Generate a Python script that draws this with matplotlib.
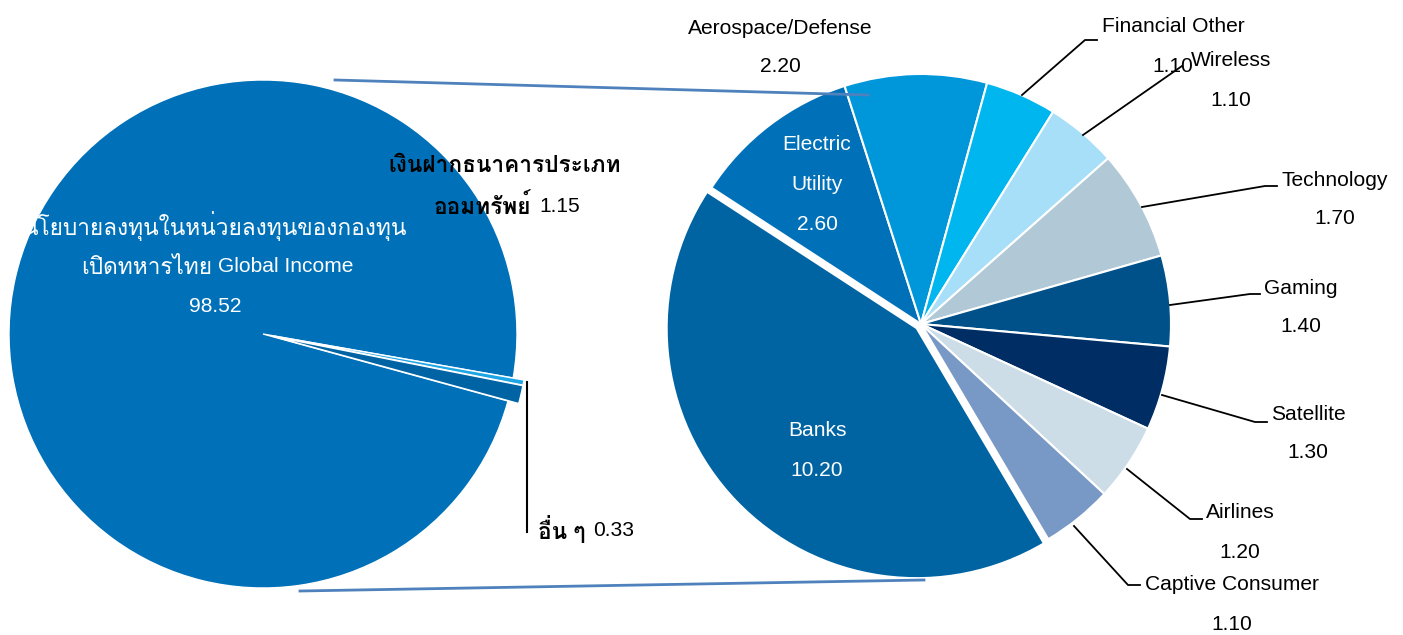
import matplotlib
matplotlib.use('Agg')
import matplotlib.pyplot as plt
from matplotlib import font_manager
from matplotlib.ft2font import FT2Font

# หา font ที่มีอักษรไทย
thai_family = None
for f in font_manager.fontManager.ttflist:
    try:
        if FT2Font(f.fname).get_char_index(0x0E01):
            thai_family = f.name
            break
    except Exception:
        pass
fams = ['Liberation Sans'] + ([thai_family] if thai_family else []) + ['DejaVu Sans']
plt.rcParams['font.family'] = fams

# data
main_labels = ['นโยบายลงทุนในหน่วยลงทุนของกองทุน\nเปิดทหารไทย Global Income', 'อื่น ๆ', 'เงินฝากธนาคารประเภทออมทรัพย์']
main_values = [98.52, 0.33, 1.15]
main_colors = ['#0071B9', '#1DA6E6', '#0064A4']

sector_labels = ['Banks', 'Electric Utility', 'Aerospace/Defense', 'Financial Other', 'Wireless',
                 'Technology', 'Gaming', 'Satellite', 'Airlines', 'Captive Consumer']
sector_values = [10.20, 2.60, 2.20, 1.10, 1.10, 1.70, 1.40, 1.30, 1.20, 1.10]
sector_colors = ['#0064A3', '#0071B9', '#0096DA', '#00B6EF', '#A8DFF8',
                 '#B1C8D6', '#005089', '#002D64', '#CCDDE8', '#7899C6']

W, H = 1403, 635
def Y(y):
    return H - y

fig = plt.figure(figsize=(W / 100, H / 100), dpi=100)
ax = fig.add_axes([0, 0, 1, 1])

# pie ซ้าย
ax.pie(main_values, colors=main_colors, center=(263, Y(334)), radius=254,
       startangle=344.7, counterclock=False, explode=[0, 11, 11],
       wedgeprops=dict(edgecolor='white', linewidth=1.0), frame=True)

# pie ขวา
ax.pie(sector_values, colors=sector_colors, center=(921, Y(324)), radius=250,
       startangle=300.6, counterclock=False, explode=[6, 0, 0, 0, 0, 0, 0, 0, 0, 0],
       wedgeprops=dict(edgecolor='white', linewidth=1.5), frame=True)

# เส้นเชื่อม
ax.plot([335, 868], [Y(80), Y(95)], color='#4F81BD', lw=2, zorder=5)
ax.plot([300, 924], [Y(591), Y(580)], color='#4F81BD', lw=2, zorder=5)

fs = 15.1
fth = 16.3
txt = dict(fontsize=fs, ha='center', va='center')

# label ซ้าย
ax.text(215, Y(226), 'นโยบายลงทุนในหน่วยลงทุนของกองทุน', color='white', fontsize=fth, ha='center', va='center')
ax.text(212, Y(267), 'เปิดทหารไทย', color='white', fontsize=fth, ha='right', va='center')
ax.text(218, Y(267), 'Global Income', color='white', fontsize=fs, ha='left', va='center')
ax.text(215, Y(307), f'{main_values[0]:.2f}', color='white', **txt)

ax.text(505, Y(165), 'เงินฝากธนาคารประเภท', color='black', fontweight='bold', fontsize=fth, ha='center', va='center')
ax.text(531, Y(207), 'ออมทรัพย์', color='black', fontweight='bold', fontsize=fth, ha='right', va='center')
ax.text(539, Y(207), f'{main_values[2]:.2f}', color='black', fontsize=fs, ha='left', va='center')

ax.plot([527, 527], [Y(382), Y(532)], color='black', lw=1.5)
ax.text(538, Y(530), 'อื่น ๆ', color='black', fontweight='bold', fontsize=fth, ha='left', va='center')
ax.text(593, Y(530), f'{main_values[1]:.2f}', color='black', fontsize=fs, ha='left', va='center')

# label ขวา: (x, y ของชื่อ, สีตัวอักษร)
label_pos = [(817, 431, 'white'), (817, 145, 'white'), (780, 28, 'black'), (1173, 27, 'black'),
             (1231, 61, 'black'), (1335, 180, 'black'), (1301, 288, 'black'), (1308, 414, 'black'),
             (1240, 513, 'black'), (1232, 585, 'black')]
for name, val, (x, y, c) in zip(sector_labels, sector_values, label_pos):
    if name == 'Electric Utility':
        ax.text(x, Y(y), 'Electric', color=c, **txt)
        ax.text(x, Y(y + 40), 'Utility', color=c, **txt)
        ax.text(x, Y(y + 80), f'{val:.2f}', color=c, **txt)
    else:
        ax.text(x, Y(y), name, color=c, **txt)
        ax.text(x, Y(y + 39), f'{val:.2f}', color=c, **txt)

# เส้นชี้
leaders = [
    [(1022, 95), (1085, 40), (1097, 40)],
    [(1083, 135), (1182, 66)],
    [(1142, 207), (1265, 186), (1277, 186)],
    [(1170, 305), (1250, 294), (1260, 294)],
    [(1162, 395), (1255, 422), (1267, 422)],
    [(1127, 469), (1190, 519), (1202, 519)],
    [(1074, 526), (1128, 585), (1140, 585)],
]
for pts in leaders:
    ax.plot([p[0] for p in pts], [Y(p[1]) for p in pts], color='black', lw=1.3, zorder=4)

ax.set_xlim(0, W)
ax.set_ylim(0, H)
ax.set_aspect('auto')
ax.axis('off')

plt.savefig('out.png', dpi=100, facecolor='white')
plt.close()
